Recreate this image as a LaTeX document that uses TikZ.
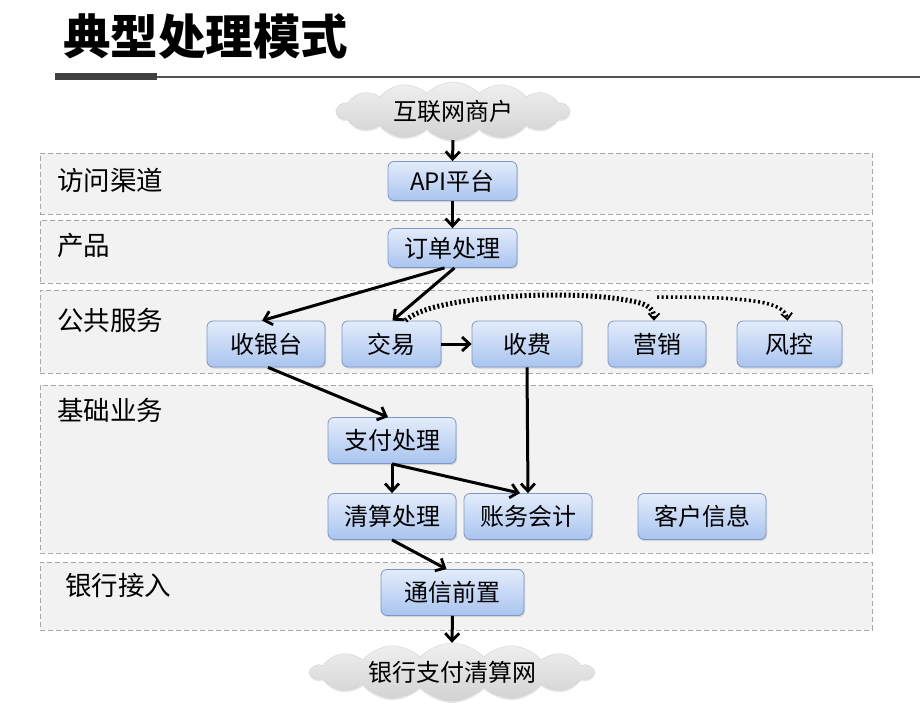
\documentclass[tikz,border=0pt]{standalone}
\usepackage{fontspec}
\setmainfont{Noto Sans CJK SC}
\usetikzlibrary{shapes.symbols,arrows.meta,shadows}
\definecolor{layerfill}{HTML}{F2F2F2}
\definecolor{layerdraw}{HTML}{A6A6A6}
\definecolor{boxdraw}{HTML}{7B98C8}
\definecolor{boxtop}{HTML}{E3ECFB}
\definecolor{boxbot}{HTML}{A9C4EF}
\definecolor{titlebar}{HTML}{404040}
\tikzset{
  layer/.style={draw=layerdraw, fill=layerfill, dashed, dash pattern=on 5pt off 3pt, line width=1pt, minimum width=832pt, inner sep=0pt},
  lbl/.style={font=\fontsize{26.5}{28}\selectfont, anchor=west, inner sep=0pt},
  proc/.style={draw=boxdraw, line width=0.8pt, rounded corners=6pt, top color=boxtop, bottom color=boxbot,
    font=\fontsize{24}{26}\selectfont, inner sep=0pt, minimum height=46pt,
    drop shadow={shadow xshift=1pt, shadow yshift=-1.5pt, opacity=0.25}},
  cld/.style={cloud, cloud puffs=14, cloud puff arc=95, cloud ignores aspect, top color=gray!12, bottom color=gray!35,
    draw=gray!35, line width=0.4pt, font=\fontsize{24}{26}\selectfont, inner sep=0pt,
    drop shadow={shadow xshift=0pt, shadow yshift=-2pt, opacity=0.2}},
  arr/.style={line width=3pt, -{Straight Barb[length=7.5pt,width=14pt,line width=2.8pt]}},
  dotarr/.style={line width=5pt, dash pattern=on 2pt off 2.4pt, -{Straight Barb[length=6pt,width=11pt,line width=1.8pt]}},
  dotarrb/.style={line width=3.5pt, dash pattern=on 2pt off 2.6pt, -{Straight Barb[length=6pt,width=11pt,line width=1.8pt]}},
}
\begin{document}
\begin{tikzpicture}[x=1pt,y=-1pt]
\useasboundingbox (0,0) rectangle (922,704);
% title
\node[font=\fontsize{47.5}{50}\bfseries\selectfont, anchor=west, inner sep=0pt] (title) at (63,37) {典型处理模式};
\draw[titlebar, line width=7pt] (55,76.5) -- (157,76.5);
\draw[titlebar!90, line width=2pt] (157,77) -- (920,77);
% layers
\node[layer, minimum height=61pt] (L1) at (456,183.5) {};
\node[layer, minimum height=63pt] (L2) at (456,251.5) {};
\node[layer, minimum height=83pt] (L3) at (456,331.5) {};
\node[layer, minimum height=168pt] (L4) at (456,469) {};
\node[layer, minimum height=68pt] (L5) at (456,596) {};
\node[lbl] (t1) at (57,180) {访问渠道};
\node[lbl] (t2) at (57,246) {产品};
\node[lbl] (t3) at (57,320) {公共服务};
\node[lbl] (t4) at (57,410) {基础业务};
\node[lbl] (t5) at (65,585) {银行接入};
% clouds
\node[cld, minimum width=232pt, minimum height=58pt] (c1) at (453,111) {互联网商户};
\node[cld, minimum width=282pt, minimum height=58pt] (c2) at (452,672) {银行支付清算网};
% boxes
\node[proc, minimum width=129pt, minimum height=39pt] (api) at (452.5,181) {API平台};
\node[proc, minimum width=129pt, minimum height=39pt] (dd) at (452.5,248) {订单处理};
\node[proc, minimum width=118pt] (syt) at (266,344) {收银台};
\node[proc, minimum width=99pt] (jy) at (391.5,344) {交易};
\node[proc, minimum width=110pt] (sf) at (527,344) {收费};
\node[proc, minimum width=98pt] (yx) at (657,344) {营销};
\node[proc, minimum width=105pt] (fk) at (789.5,344) {风控};
\node[proc, minimum width=128pt] (zf) at (392,440.5) {支付处理};
\node[proc, minimum width=128pt] (qs) at (392,516.5) {清算处理};
\node[proc, minimum width=128pt] (zw) at (528,516.5) {账务会计};
\node[proc, minimum width=128pt] (kh) at (702,516.5) {客户信息};
\node[proc, minimum width=143pt] (tx) at (452.5,592.5) {通信前置};
% connectors
\draw[arr] (c1.south) -- (api.north);
\draw[arr] (api.south) -- (dd.north);
\draw[arr] ([xshift=-8pt]dd.south) -- ([xshift=-4pt]syt.north);
\draw[arr] ([xshift=2pt]dd.south) -- ([xshift=1pt]jy.north);
\draw[arr] (jy.east) -- (sf.west);
\draw[arr] ([xshift=2pt]syt.south) -- ([xshift=-4pt]zf.north);
\draw[arr] (sf.south) -- (zw.north);
\draw[arr] (zf.south) -- (qs.north);
\draw[arr] (zf.south) -- ([xshift=-8pt]zw.north);
\draw[arr] (qs.south) -- ([xshift=-6pt]tx.north);
\draw[arr] (tx.south) -- (c2.north);
\coordinate (d1) at (657,297);
\draw[dotarr] ([xshift=14pt]jy.north) .. controls (430,296) and (560,290) .. (620,299) .. controls (645,303) and (654,306) .. ([xshift=-3pt]yx.north);
\draw[dotarrb] (d1) .. controls (740,297) and (785,300) .. ([xshift=-2pt]fk.north);
\end{tikzpicture}
\end{document}
